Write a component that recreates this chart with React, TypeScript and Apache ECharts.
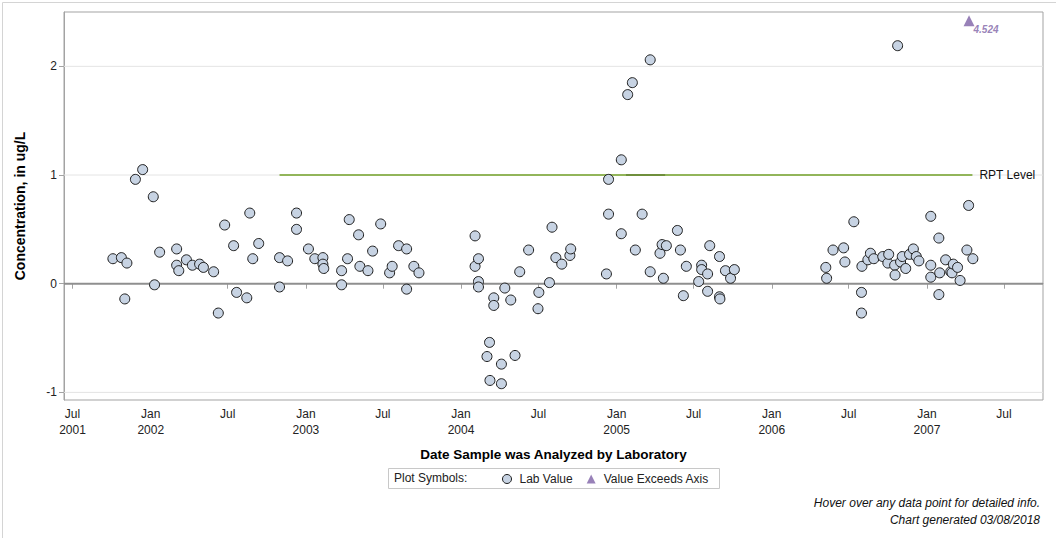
import React, { useEffect, useRef } from "react";
import * as echarts from "echarts";

const labDates = [
  "2001-10-04","2001-10-24","2001-11-01","2001-11-06","2001-11-26","2001-12-13","2002-01-07","2002-01-10","2002-01-22",
  "2002-03-03","2002-03-03","2002-03-08","2002-03-26","2002-04-09","2002-04-26","2002-05-05","2002-05-29","2002-06-09",
  "2002-06-24","2002-07-15","2002-07-22","2002-08-15","2002-08-22","2002-08-29","2002-09-12","2002-10-31","2002-10-31",
  "2002-11-19","2002-12-10","2002-12-10","2003-01-07","2003-01-22","2003-02-10","2003-02-10","2003-02-12","2003-03-26",
  "2003-03-26","2003-04-09","2003-04-13","2003-05-05","2003-05-08","2003-05-27","2003-06-07","2003-06-26","2003-07-17",
  "2003-07-23","2003-08-07","2003-08-26","2003-08-26","2003-09-12","2003-09-24",
  "2004-02-03","2004-02-03","2004-02-11","2004-02-11","2004-02-11","2004-03-02","2004-03-08","2004-03-09","2004-03-18",
  "2004-03-18","2004-04-05","2004-04-05","2004-04-13","2004-04-27","2004-05-07","2004-05-18","2004-06-08","2004-06-30",
  "2004-07-02","2004-07-27","2004-08-02","2004-08-11","2004-08-25","2004-09-13","2004-09-15",
  "2004-12-08","2004-12-13","2004-12-13","2005-01-12","2005-01-12","2005-01-27","2005-02-07","2005-02-14","2005-03-02",
  "2005-03-21","2005-03-21","2005-04-13","2005-04-18","2005-04-21","2005-04-28","2005-05-24","2005-05-31","2005-06-07",
  "2005-06-14","2005-07-13","2005-07-20","2005-07-20","2005-08-03","2005-08-03","2005-08-08","2005-08-31","2005-08-31",
  "2005-09-01","2005-09-14","2005-09-26","2005-10-05",
  "2006-05-08","2006-05-10","2006-05-25","2006-06-19","2006-06-22","2006-07-13","2006-08-01","2006-07-31","2006-07-31",
  "2006-08-15","2006-08-21","2006-08-29","2006-09-19","2006-10-01","2006-10-03","2006-10-17","2006-10-18","2006-10-24",
  "2006-10-31","2006-11-04","2006-11-12","2006-11-21","2006-11-30","2006-12-07","2006-12-13","2007-01-10","2007-01-10",
  "2007-01-10","2007-01-29","2007-01-29","2007-01-31","2007-02-14","2007-02-26","2007-03-01","2007-03-04","2007-03-14",
  "2007-03-20","2007-04-05","2007-04-09","2007-04-19"
];

const labValues = [
  0.23, 0.24, -0.14, 0.19, 0.96, 1.05, 0.80, -0.01, 0.29,
  0.32, 0.17, 0.12, 0.22, 0.17, 0.18, 0.15, 0.11, -0.27,
  0.54, 0.35, -0.08, -0.13, 0.65, 0.23, 0.37, 0.24, -0.03,
  0.21, 0.65, 0.50, 0.32, 0.23, 0.24, 0.18, 0.14, 0.12,
  -0.01, 0.23, 0.59, 0.45, 0.16, 0.12, 0.30, 0.55, 0.10,
  0.16, 0.35, 0.32, -0.05, 0.16, 0.10,
  0.44, 0.16, 0.23, 0.02, -0.03, -0.67, -0.54, -0.89, -0.13,
  -0.20, -0.74, -0.92, -0.04, -0.15, -0.66, 0.11, 0.31, -0.23,
  -0.08, 0.01, 0.52, 0.24, 0.18, 0.26, 0.32,
  0.09, 0.96, 0.64, 1.14, 0.46, 1.74, 1.85, 0.31, 0.64,
  2.06, 0.11, 0.28, 0.36, 0.05, 0.35, 0.49, 0.31, -0.11,
  0.16, 0.02, 0.17, 0.13, 0.09, -0.07, 0.35, 0.25, -0.12,
  -0.14, 0.12, 0.05, 0.13,
  0.15, 0.05, 0.31, 0.33, 0.20, 0.57, 0.16, -0.08, -0.27,
  0.22, 0.28, 0.23, 0.25, 0.19, 0.27, 0.17, 0.08, 2.19,
  0.20, 0.25, 0.14, 0.27, 0.32, 0.25, 0.21, 0.62, 0.17,
  0.06, 0.42, -0.10, 0.10, 0.22, 0.11, 0.10, 0.18, 0.15,
  0.03, 0.31, 0.72, 0.23
];

const exceedDates = ["2007-04-10"];
const exceedValues = [4.524];

const rptLevel = 1;
const rptDates = ["2002-10-31", "2007-04-18"];
const rptOverlapDates = ["2005-01-23", "2005-04-25"];

const xRange = ["2001-06-11", "2007-10-01"];
const yRange = [-1.07, 2.5];
const yTicks = [-1, 0, 1, 2];
const yGridLines = [-1, 1, 2];

const xTickDates = [
  "2001-07-01","2002-01-01","2002-07-01","2003-01-01","2003-07-01","2004-01-01","2004-07-01",
  "2005-01-01","2005-07-01","2006-01-01","2006-07-01","2007-01-01","2007-07-01"
];
const xTickLabels = [
  "Jul\n2001","Jan\n2002","Jul","Jan\n2003","Jul","Jan\n2004","Jul",
  "Jan\n2005","Jul","Jan\n2006","Jul","Jan\n2007","Jul"
];

const toTs = (s: string) => {
  const [y, m, d] = s.split("-").map(Number);
  return Date.UTC(y, m - 1, d);
};

const FONT = "'Liberation Sans', Arial, sans-serif";

export default function App() {
  const ref = useRef<HTMLDivElement>(null);

  useEffect(() => {
    document.body.style.margin = "0";
    if (!ref.current) return;
    const chart = echarts.init(ref.current, undefined, { renderer: "svg" });

    const xMin = toTs(xRange[0]);
    const xMax = toTs(xRange[1]);
    const tickTs = xTickDates.map(toTs);
    const labelMap = new Map<number, string>();
    tickTs.forEach((t, i) => labelMap.set(t, xTickLabels[i]));

    const labData = labDates.map((d, i) => [toTs(d), labValues[i]]);
    const exceedPlotY = yRange[1] - 0.08;
    const exceedData = exceedDates.map((d, i) => ({
      value: [toTs(d), exceedPlotY],
      actual: exceedValues[i],
    }));

    const refLine = (y: number, color: string, width: number) => ({
      type: "line",
      data: [[xMin, y], [xMax, y]],
      symbol: "none",
      silent: true,
      z: 1,
      lineStyle: { color, width },
      animation: false,
    });

    const option: any = {
      animation: false,
      textStyle: { fontFamily: FONT },
      grid: { left: 64, right: 13, top: 12, bottom: 138, show: true, borderColor: "#a3a3a3", borderWidth: 1 },
      xAxis: {
        type: "value",
        min: xMin,
        max: xMax,
        name: "Date Sample was Analyzed by Laboratory",
        nameLocation: "middle",
        nameGap: 47,
        nameTextStyle: { fontFamily: FONT, fontSize: 13.5, fontWeight: "bold", color: "#000" },
        axisLine: { show: true, lineStyle: { color: "#a3a3a3" } },
        axisTick: { show: true, length: 5, customValues: tickTs, lineStyle: { color: "#a3a3a3" } },
        axisLabel: {
          customValues: tickTs,
          formatter: (v: number) => labelMap.get(v) ?? "",
          fontFamily: FONT,
          fontSize: 12,
          color: "#222",
          lineHeight: 16,
          margin: 6,
        },
        splitLine: { show: false },
      },
      yAxis: {
        type: "value",
        min: yRange[0],
        max: yRange[1],
        name: "Concentration, in ug/L",
        nameLocation: "middle",
        nameGap: 37,
        nameTextStyle: { fontFamily: FONT, fontSize: 14, fontWeight: "bold", color: "#000" },
        axisLine: { show: true, lineStyle: { color: "#a3a3a3" } },
        axisTick: { show: true, length: 5, customValues: yTicks, lineStyle: { color: "#a3a3a3" } },
        axisLabel: { customValues: yTicks, fontFamily: FONT, fontSize: 12, color: "#222", margin: 7 },
        splitLine: { show: false },
      },
      legend: {
        data: [
          { name: "Lab Value", itemStyle: { borderWidth: 1 } },
          { name: "Value Exceeds Axis" },
        ],
        left: 502,
        top: 473,
        itemWidth: 9,
        itemHeight: 9,
        itemGap: 14,
        padding: 0,
        textStyle: { fontFamily: FONT, fontSize: 12, color: "#222", padding: [0, 0, 0, 3] },
        selectedMode: false,
      },
      graphic: [
        { type: "rect", left: 0, top: 0, shape: { x: 0, y: 0, width: 1055, height: 537 }, style: { fill: "none", stroke: "#d4d4d4", lineWidth: 1 }, silent: true },
        { type: "rect", shape: { x: 388.5, y: 468.5, width: 331, height: 20 }, style: { fill: "none", stroke: "#c8c8c8", lineWidth: 1 }, silent: true },
        { type: "text", x: 394, y: 478, style: { text: "Plot Symbols:", fontFamily: FONT, fontSize: 12, fill: "#222", verticalAlign: "middle" }, silent: true },
        { type: "text", x: 1040, y: 503, style: { text: "Hover over any data point for detailed info.", fontFamily: FONT, fontSize: 12, fontStyle: "italic", fill: "#111", align: "right", verticalAlign: "middle" }, silent: true },
        { type: "text", x: 1040, y: 520, style: { text: "Chart generated 03/08/2018", fontFamily: FONT, fontSize: 12, fontStyle: "italic", fill: "#111", align: "right", verticalAlign: "middle" }, silent: true },
      ],
      series: [
        ...yGridLines.map((y) => refLine(y, "#e4e4e4", 1)),
        refLine(0, "#8f8f8f", 2),
        {
          type: "line",
          name: "RPT",
          data: rptDates.map((d) => [toTs(d), rptLevel]),
          symbol: "none",
          silent: true,
          z: 1,
          lineStyle: { color: "#92b55a", width: 2 },
          endLabel: { show: true, formatter: "RPT Level", distance: 7, fontFamily: FONT, fontSize: 12, color: "#111" },
        },
        {
          type: "line",
          name: "RPT2",
          data: rptOverlapDates.map((d) => [toTs(d), rptLevel]),
          symbol: "none",
          silent: true,
          z: 1,
          lineStyle: { color: "#6f8f3c", width: 2 },
        },
        {
          type: "scatter",
          name: "Lab Value",
          data: labData,
          symbol: "circle",
          symbolSize: 10,
          z: 3,
          itemStyle: { color: "#c7d3e3", borderColor: "#1c1c1c", borderWidth: 1, opacity: 1 },
        },
        {
          type: "scatter",
          name: "Value Exceeds Axis",
          data: exceedData,
          symbol: "triangle",
          symbolSize: 11,
          z: 3,
          itemStyle: { color: "#7e62a6" },
          label: {
            show: true,
            position: [10, 9],
            align: "left",
            verticalAlign: "top",
            formatter: (p: any) => String(p.data.actual),
            fontFamily: FONT,
            fontSize: 10,
            fontWeight: "bold",
            fontStyle: "italic",
            color: "#7e62a6",
          },
        },
      ],
    };

    chart.setOption(option);
    return () => chart.dispose();
  }, []);

  return (
    <div
      ref={ref}
      style={{ position: "fixed", left: 0, top: 0, width: 1056, height: 538, background: "#fff" }}
    />
  );
}
